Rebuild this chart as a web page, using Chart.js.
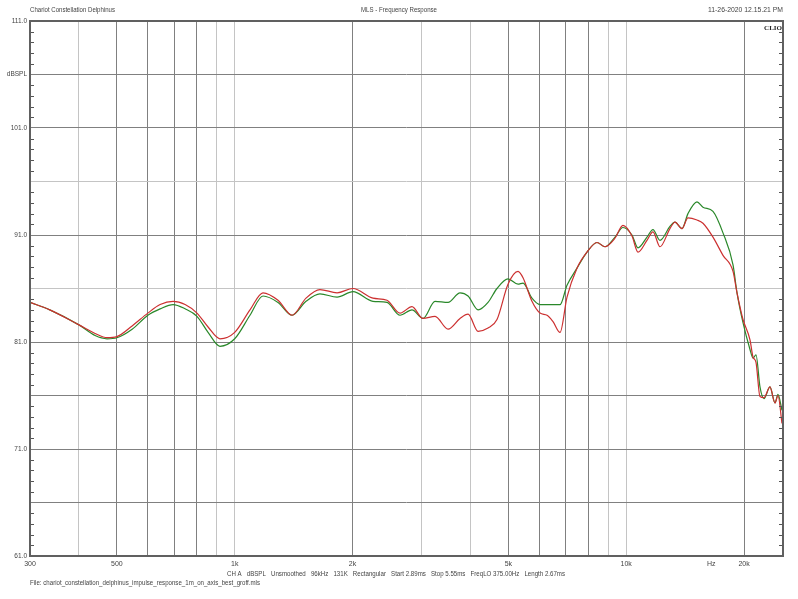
<!DOCTYPE html>
<html>
<head>
<meta charset="utf-8">
<title>MLS - Frequency Response</title>
<script src="https://cdn.jsdelivr.net/npm/chart.js@4.4.1/dist/chart.umd.min.js"></script>
<style>
  html, body { margin: 0; padding: 0; background: #fff; }
  #wrap { width: 798px; height: 599px; }
</style>
</head>
<body>
<div id="wrap"><canvas id="myChart" width="798" height="599"></canvas></div>
<script>
// frequencies (Hz)
const freqs = [
  300, 337, 400, 440, 472, 500, 547, 600, 645, 696,
  747, 801, 855, 917, 1000, 1094, 1181, 1290, 1401, 1521,
  1651, 1826, 2005, 2255, 2449, 2644, 2837, 3026, 3249, 3507,
  3763, 3945, 4185, 4437, 4677, 4990, 5293, 5451, 5745, 6024,
  6278, 6503, 6778, 7060, 7487, 7941, 8421, 8827, 9362, 9812,
  10346, 10719, 11300, 11705, 12199, 12935, 13322, 13884, 14381, 15165,
  15707, 16661, 17670, 18745, 19190, 19879, 20713, 21081, 21456, 21966,
  22488, 23297, 23990, 24420, 25000
];

// red trace, dBSPL
const redDb = [
  84.7, 84.0, 82.6, 81.8, 81.4, 81.5, 82.5, 83.7, 84.5, 84.8,
  84.5, 83.7, 82.4, 81.3, 81.9, 84.0, 85.6, 84.9, 83.5, 85.1,
  85.9, 85.6, 86.0, 85.1, 84.9, 83.7, 84.3, 83.2, 83.4, 82.2,
  83.2, 83.6, 82.0, 82.3, 83.1, 86.4, 87.6, 87.0, 84.8, 83.7,
  83.5, 82.9, 81.9, 85.2, 87.9, 89.4, 90.3, 89.9, 90.7, 91.9,
  90.9, 89.4, 90.5, 91.3, 89.9, 91.6, 92.2, 91.6, 92.6, 92.4,
  92.1, 90.8, 89.1, 87.6, 85.6, 83.1, 81.2, 79.6, 79.1, 75.9,
  75.8, 76.8, 75.3, 76.0, 73.4
];

// green trace, dBSPL
const greenDb = [
  84.7, 84.0, 82.6, 81.6, 81.3, 81.4, 82.2, 83.5, 84.1, 84.5,
  84.1, 83.4, 81.9, 80.6, 81.3, 83.5, 85.3, 84.7, 83.5, 84.8,
  85.5, 85.2, 85.7, 84.8, 84.7, 83.5, 84.0, 83.2, 84.8, 84.7,
  85.6, 85.3, 84.0, 84.7, 86.0, 86.9, 86.4, 86.5, 85.1, 84.5,
  84.5, 84.5, 84.5, 86.3, 87.9, 89.4, 90.3, 89.9, 90.8, 91.7,
  91.0, 89.8, 90.8, 91.5, 90.5, 91.8, 92.2, 91.6, 93.0, 94.1,
  93.6, 93.2, 91.2, 88.2, 85.6, 82.8, 80.3, 79.5, 79.8, 76.8,
  75.7, 76.8, 75.3, 76.1, 74.6
];

const xTickValues = [300, 400, 500, 600, 700, 800, 900, 1000, 2000, 3000, 4000,
  5000, 6000, 7000, 8000, 9000, 10000, 16500, 20000];
const xTickLabels = { 300: '300', 500: '500', 1000: '1k', 2000: '2k', 5000: '5k',
  10000: '10k', 16500: 'Hz', 20000: '20k' };
const xLightLines = [400, 900, 1000, 3000, 4000, 9000, 10000];

const yTickValues = [61, 66, 71, 76, 81, 86, 91, 96, 101, 106, 111];
const yTickLabels = { 61: '61.0', 71: '71.0', 81: '81.0', 91: '91.0',
  101: '101.0', 106: 'dBSPL', 111: '111.0' };
const yLightLines = [86, 96];

const headerLeft = 'Chariot Constellation Delphinus';
const headerMid = 'MLS - Frequency Response';
const headerRight = '11-26-2020 12.15.21 PM';
const infoLine = 'CH A   dBSPL   Unsmoothed   96kHz   131K   Rectangular   Start 2.89ms   Stop 5.55ms   FreqLO 375.00Hz   Length 2.67ms';
const fileLine = 'File: chariot_constellation_delphinus_impulse_response_1m_on_axis_best_groff.mls';

const DARK = '#808080';
const LIGHT = '#c4c4c4';
const TEXT = '#444';
const FONT = '"Liberation Sans", Arial, sans-serif';

const toPoints = (ys) => freqs.map((f, i) => ({ x: f, y: ys[i] }));

// frame, minor ticks and the CLIO header/footer texts
const clioDecor = {
  id: 'clioDecor',
  afterDraw(chart) {
    const { ctx, chartArea: a } = chart;
    const yScale = chart.scales.y;
    ctx.save();

    ctx.strokeStyle = '#555';
    ctx.lineWidth = 1;
    for (let v = 61; v <= 111; v++) {
      if (yTickValues.includes(v)) continue;
      const py = Math.round(yScale.getPixelForValue(v)) + 0.5;
      ctx.beginPath();
      ctx.moveTo(a.left, py); ctx.lineTo(a.left + 4, py);
      ctx.moveTo(a.right - 4, py); ctx.lineTo(a.right, py);
      ctx.stroke();
    }

    ctx.strokeStyle = '#606060';
    ctx.lineWidth = 2;
    ctx.strokeRect(a.left, a.top, a.right - a.left, a.bottom - a.top);

    ctx.fillStyle = TEXT;
    ctx.textBaseline = 'middle';
    ctx.font = '7px ' + FONT;
    ctx.textAlign = 'left';
    ctx.fillText(headerLeft, a.left, 10.5, 85);
    ctx.textAlign = 'center';
    ctx.fillText(headerMid, 399, 10.5, 76);
    ctx.textAlign = 'right';
    ctx.fillText(headerRight, a.right, 10.5, 75);

    ctx.textAlign = 'left';
    ctx.fillText(infoLine, 227, 574.5, 338);
    ctx.fillText(fileLine, a.left, 583.5, 230);

    ctx.fillStyle = '#222';
    ctx.font = 'bold 7px "Liberation Serif", serif';
    ctx.textAlign = 'right';
    ctx.fillText('CLIO', a.right - 1, a.top + 7, 20);
    ctx.restore();
  }
};

new Chart(document.getElementById('myChart').getContext('2d'), {
  type: 'line',
  data: {
    datasets: [
      {
        label: 'red',
        data: toPoints(redDb),
        borderColor: '#cc3030',
        borderWidth: 1.2,
        pointRadius: 0,
        cubicInterpolationMode: 'monotone',
        fill: false
      },
      {
        label: 'green',
        data: toPoints(greenDb),
        borderColor: '#2a882a',
        borderWidth: 1.2,
        pointRadius: 0,
        cubicInterpolationMode: 'monotone',
        fill: false
      }
    ]
  },
  options: {
    responsive: false,
    animation: false,
    layout: { padding: { top: 21, right: 15, left: 0, bottom: 0 } },
    plugins: {
      legend: { display: false },
      tooltip: { enabled: false }
    },
    scales: {
      x: {
        type: 'logarithmic',
        min: 300,
        max: 25150,
        afterBuildTicks: (scale) => { scale.ticks = xTickValues.map(v => ({ value: v })); },
        afterFit: (scale) => { scale.height = 43; },
        border: { display: false },
        grid: {
          drawTicks: false,
          lineWidth: 1,
          color: (c) => {
            const v = c.tick && c.tick.value;
            if (v === 16500) return 'rgba(0,0,0,0)';
            return xLightLines.includes(v) ? LIGHT : DARK;
          }
        },
        ticks: {
          autoSkip: false,
          maxRotation: 0,
          padding: 4,
          color: TEXT,
          font: { size: 7, family: FONT },
          callback: (v) => xTickLabels[v] || ''
        }
      },
      y: {
        type: 'linear',
        min: 61,
        max: 111,
        afterBuildTicks: (scale) => { scale.ticks = yTickValues.map(v => ({ value: v })); },
        afterFit: (scale) => { scale.width = 30; },
        border: { display: false },
        grid: {
          drawTicks: false,
          lineWidth: 1,
          color: (c) => (yLightLines.includes(c.tick && c.tick.value) ? LIGHT : DARK)
        },
        ticks: {
          autoSkip: false,
          padding: 3,
          color: TEXT,
          font: { size: 6.5, family: FONT },
          callback: (v) => yTickLabels[v] || ''
        }
      }
    }
  },
  plugins: [clioDecor]
});
</script>
</body>
</html>
